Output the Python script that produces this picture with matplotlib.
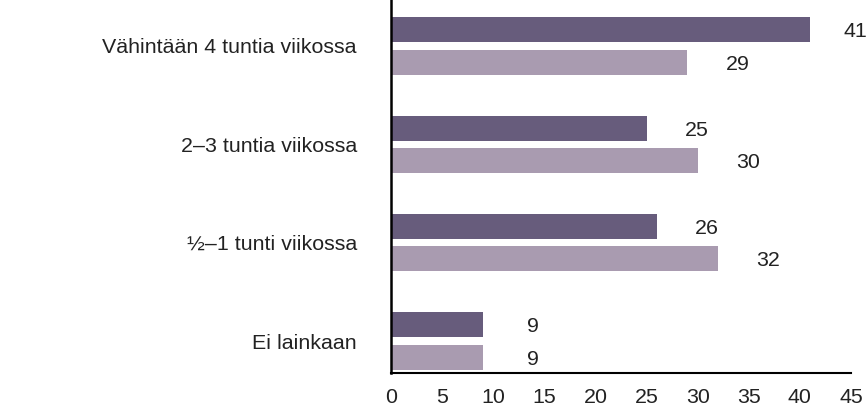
import matplotlib.pyplot as plt
import numpy as np

plt.rcParams['font.family'] = ['Liberation Sans', 'DejaVu Sans']

categories = ["Ei lainkaan", "½–1 tunti viikossa", "2–3 tuntia viikossa", "Vähintään 4 tuntia viikossa"]
dark_vals = [9, 26, 25, 41]
light_vals = [9, 32, 30, 29]

DARK = "#675c7c"
LIGHT = "#a99bb0"
FS = 15.4

fig = plt.figure(figsize=(8.68, 4.09), dpi=100)
ax = fig.add_axes([391 / 868, 36 / 409, 460 / 868, 373 / 409])

y = np.arange(len(categories))
h = 0.254
off = 0.165
ax.barh(y + off, dark_vals, height=h, color=DARK)
ax.barh(y - off, light_vals, height=h, color=LIGHT)

# value labels sit to the right of each bar, kept inside the figure
for yy, vals in ((y + off, dark_vals), (y - off, light_vals)):
    for yi, v in zip(yy, vals):
        ax.text(min(v + 4.9, 45.4), yi - 0.02, str(v), ha="center", va="center",
                fontsize=FS, color="#222222", clip_on=False)

ax.set_xlim(0, 45)
ax.set_ylim(-0.325, 3.467)
ax.set_xticks(range(0, 46, 5))
ax.set_yticks(y)
ax.set_yticklabels(categories)
ax.tick_params(axis="both", length=0, labelsize=FS, colors="#222222")
ax.tick_params(axis="y", pad=24.5)
ax.tick_params(axis="x", pad=11)

for side in ("top", "right"):
    ax.spines[side].set_visible(False)
ax.spines["left"].set_linewidth(1.8)
ax.spines["bottom"].set_linewidth(1.5)

fig.savefig("out.png", dpi=100)
